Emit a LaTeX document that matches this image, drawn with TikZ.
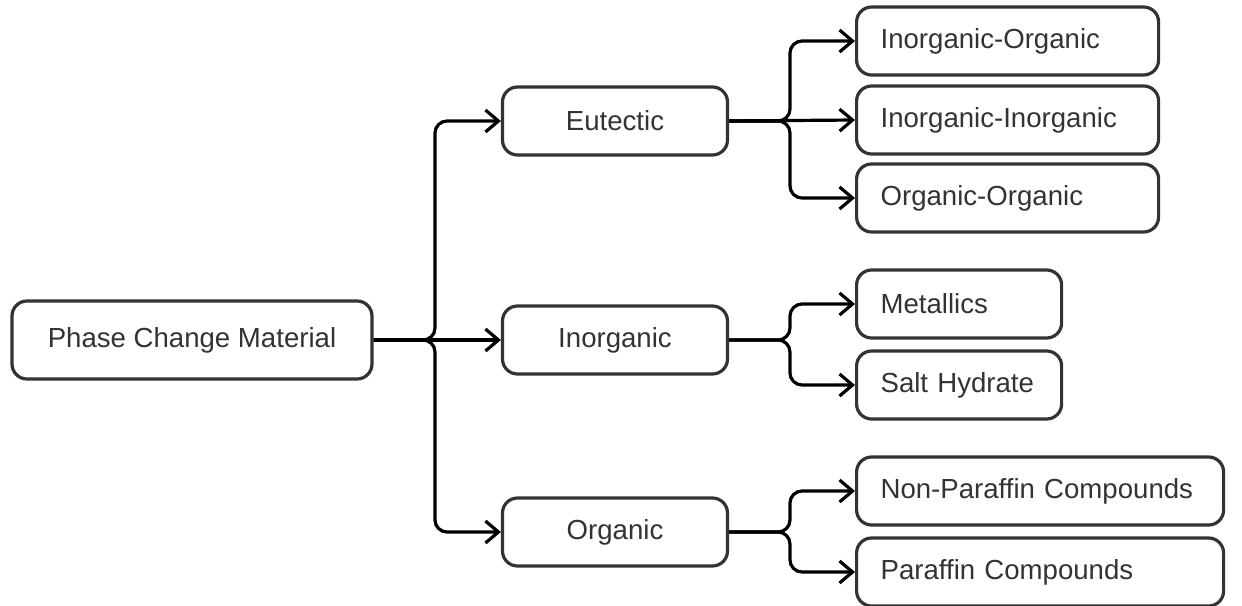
\documentclass[tikz,border=0pt]{standalone}
\usepackage{fontspec}
\setmainfont{Liberation Sans}
\usetikzlibrary{positioning,arrows.meta}
\definecolor{ink}{HTML}{333333}
\tikzset{
  block/.style={rectangle, draw=ink, line width=1.6pt, rounded corners=7.5pt, fill=white,
                text=ink, font=\fontsize{13.8}{16}\selectfont, minimum height=34pt, align=center},
  leaf/.style={block, anchor=west, align=left, inner xsep=12pt},
  arr/.style={-{Straight Barb[length=6.5pt,width=11pt]}, line width=1.6pt, rounded corners=6pt, draw=black},
}
\begin{document}
\begin{tikzpicture}[x=0.5pt,y=-0.5pt]
  \useasboundingbox (0,0) rectangle (1242,605);
  % root and classes
  \node[block, minimum width=180pt, minimum height=39pt] (pcm) at (192,340) {Phase Change Material};
  \node[block, minimum width=112.5pt] (eut) at (615,121) {Eutectic};
  \node[block, minimum width=112.5pt] (inorg) at (615,340) {Inorganic};
  \node[block, minimum width=112.5pt] (org) at (615,532) {Organic};
  % sub classes
  \node[leaf, text width=127pt] (ioo) at (855,41) {Inorganic-Organic};
  \node[leaf, text width=127pt] (ioi) at (855,120) {Inorganic-Inorganic};
  \node[leaf, text width=127pt] (oo) at (855,198) {Organic-Organic};
  \node[leaf, text width=78.5pt] (met) at (855,304) {Metallics};
  \node[leaf, text width=78.5pt] (salt) at (855,385) {Salt Hydrate};
  \node[leaf, text width=159.5pt] (npar) at (855,491) {Non-Paraffin Compounds};
  \node[leaf, text width=159.5pt] (par) at (855,572) {Paraffin Compounds};
  % branch points
  \coordinate (jroot) at (435,340);
  \coordinate (jeut) at (790,121);
  \coordinate (jinorg) at (790,340);
  \coordinate (jorg) at (790,532);
  % connectors
  \draw[arr] (pcm.east) -- (jroot) |- (eut.west);
  \draw[arr] (pcm.east) -- (inorg.west);
  \draw[arr] (pcm.east) -- (jroot) |- (org.west);
  \draw[arr] (eut.east) -- (jeut) |- (ioo.west);
  \draw[arr] (eut.east) -- (ioi.west);
  \draw[arr] (eut.east) -- (jeut) |- (oo.west);
  \draw[arr] (inorg.east) -- (jinorg) |- (met.west);
  \draw[arr] (inorg.east) -- (jinorg) |- (salt.west);
  \draw[arr] (org.east) -- (jorg) |- (npar.west);
  \draw[arr] (org.east) -- (jorg) |- (par.west);
\end{tikzpicture}
\end{document}
